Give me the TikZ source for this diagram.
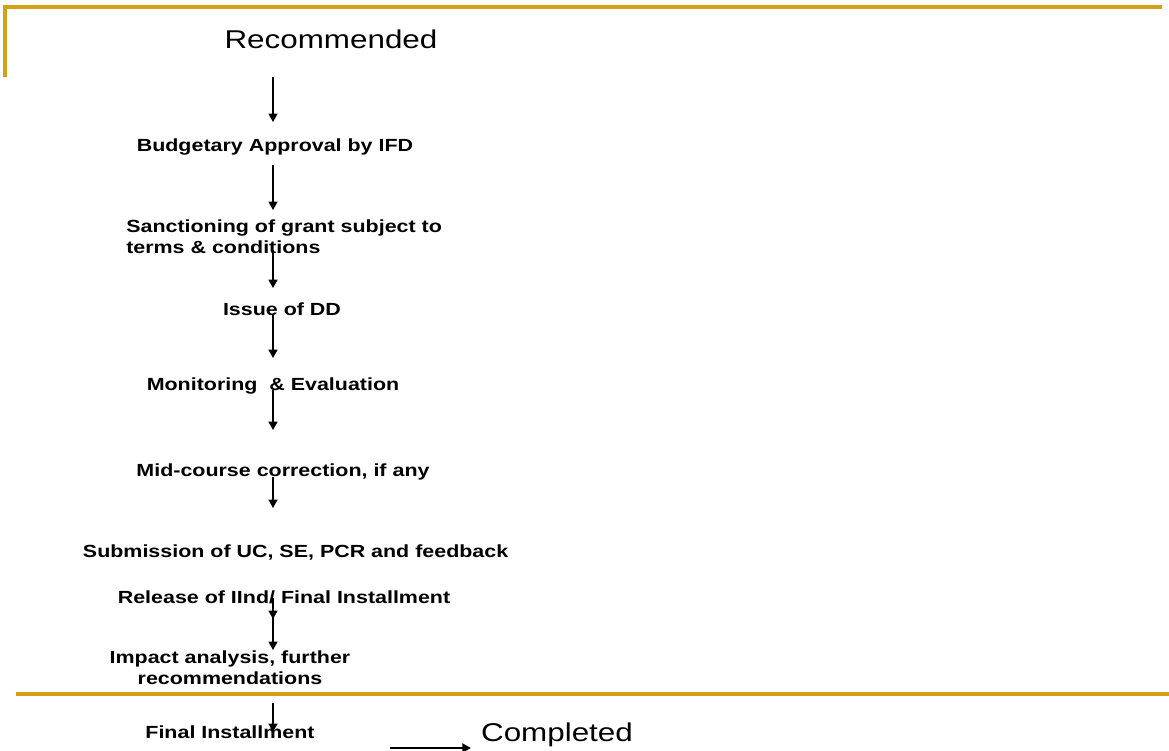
\documentclass[tikz,border=0pt]{standalone}
\usepackage{fontspec}
\setmainfont{Liberation Sans}[FakeStretch=1.22]
\usetikzlibrary{arrows.meta}
\definecolor{gold}{RGB}{212,160,23}

\tikzset{
  stage/.style={font=\fontsize{12.5}{14.8}\selectfont\bfseries, inner sep=0pt},
  big/.style={font=\fontsize{18.3}{20}\selectfont, inner sep=0pt},
  flow/.style={line width=0.9pt, -{Triangle[length=6pt,width=6.5pt]}}
}

\begin{document}
\begin{tikzpicture}
   \useasboundingbox (0,0) rectangle (29.225,18.775);
   % frame lines
   \draw[gold, line width=2.2pt] (0.125,16.85) -- (0.125,18.6) -- (29.05,18.6);
   \draw[gold, line width=2.2pt] (0.4,1.425) -- (29.225,1.425);
   % stages
   \node[big] (rec) at (8.275,17.8) {Recommended};
   \node[stage] (bud) at (6.875,15.1) {Budgetary Approval by IFD};
   \node[stage, align=left, anchor=west] (sanc) at (3.15,12.8625) {Sanctioning of grant subject to\\terms \& conditions};
   \node[stage] (dd) at (7.05,11.05) {Issue of DD};
   \node[stage] (mon) at (6.825,9.125) {Monitoring\ \ \& Evaluation};
   \node[stage] (mid) at (7.075,6.975) {Mid-course correction, if any};
   \node[stage] (sub) at (7.39,4.95) {Submission of UC, SE, PCR and feedback};
   \node[stage] (rel) at (7.1,3.85) {Release of IInd/ Final Installment};
   \node[stage, align=center] (imp) at (5.75,2.075) {Impact analysis, further\\recommendations};
   \node[stage] (fin) at (5.75,0.475) {Final Installment};
   \node[big] (done) at (13.925,0.4) {Completed};
   % arrows
   \coordinate (spine) at (6.825,0);
   \draw[flow, shorten <=0.95cm, shorten >=0.625cm] (rec.center -| spine) -- (bud.center -| spine);
   \draw[flow, shorten <=0.45cm, shorten >=0.6625cm] (bud.center -| spine) -- (sanc.center -| spine);
   \draw[flow, shorten <=0.3375cm, shorten >=0.525cm] (sanc.center -| spine) -- (dd.center -| spine);
   \draw[flow, shorten <=0.15cm, shorten >=0.7cm] (dd.center -| spine) -- (mon.center -| spine);
   \draw[flow, shorten <=0.1cm, shorten >=1.05cm] (mon.center -| spine) -- (mid.center -| spine);
   \draw[flow, shorten <=0.125cm, shorten >=1.125cm] (mid.center -| spine) -- (sub.center -| spine);
   \draw[flow, shorten <=0.025cm, shorten >=1.225cm] (rel.center -| spine) -- (imp.center -| spine);
   \draw[flow, shorten <=0.025cm, shorten >=0.45cm] (rel.center -| spine) -- (imp.center -| spine);
   \draw[flow, shorten <=0.875cm] (imp.center -| spine) -- (fin.center -| spine);
   \coordinate (tail) at (9.75,0.075);
   \draw[flow, shorten >=0.25cm] (tail) -- (tail -| done.west);
\end{tikzpicture}
\end{document}
